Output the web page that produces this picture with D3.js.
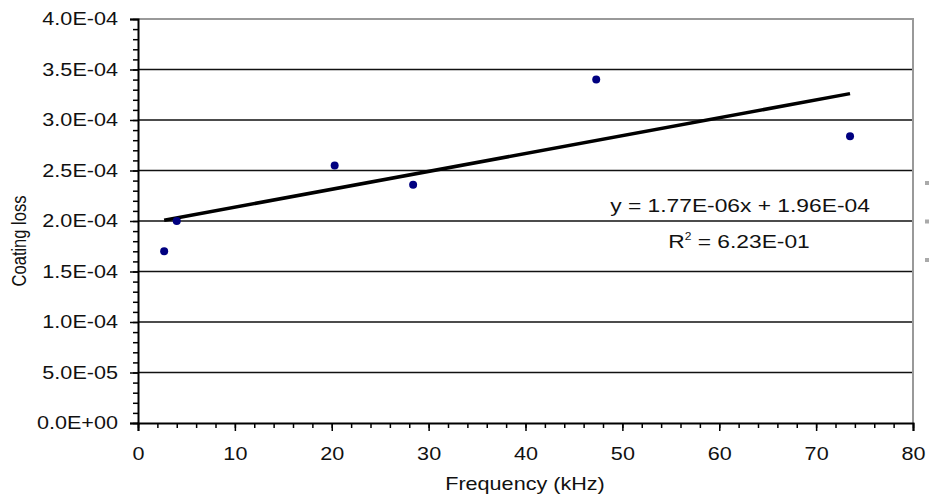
<!DOCTYPE html>
<html>
<head>
<meta charset="utf-8">
<script src="https://cdn.jsdelivr.net/npm/d3@7"></script>
<style>
  body { margin: 0; background: #fff; }
  svg { display: block; font-family: "Liberation Sans", Arial, sans-serif; }
</style>
</head>
<body>
<div id="chart"></div>
<script>
// data
const freq = [2.7, 4.0, 20.3, 28.4, 47.3, 73.5];
const loss = [1.70e-4, 2.00e-4, 2.55e-4, 2.36e-4, 3.40e-4, 2.84e-4];
const slope = 1.77e-6;
const intercept = 1.96e-4;
const eqText = 'y = 1.77E-06x + 1.96E-04';
const r2Value = '6.23E-01';
const xTicks = [0, 10, 20, 30, 40, 50, 60, 70, 80];
const yTicks = [0, 0.5e-4, 1e-4, 1.5e-4, 2e-4, 2.5e-4, 3e-4, 3.5e-4, 4e-4];
const legendRows = [0, 1, 2];

const width = 929, height = 500;
const margin = { top: 19, right: 16, bottom: 77, left: 138 };
const stretch = 1.2;

const fmt = (v) => {
  if (v === 0) return '0.0E+00';
  const [m, e] = v.toExponential(1).split('e');
  const n = +e;
  return `${m}E${n < 0 ? '-' : '+'}${String(Math.abs(n)).padStart(2, '0')}`;
};

const svg = d3.select('#chart').append('svg').attr('width', width).attr('height', height);

const x = d3.scaleLinear().domain([0, 80]).range([margin.left, width - margin.right]);
const y = d3.scaleLinear().domain([0, 4e-4]).range([height - margin.bottom, margin.top]);

// gridlines
svg.append('g')
  .selectAll('line')
  .data(yTicks.filter((d) => d > 0 && d < 4e-4))
  .enter()
  .append('line')
  .attr('x1', x(0)).attr('x2', x(80))
  .attr('y1', (d) => y(d)).attr('y2', (d) => y(d))
  .attr('stroke', '#111').attr('stroke-width', 1.6);

// plot border (top, right)
svg.append('path')
  .attr('d', `M${x(0)},${y(4e-4)}H${x(80)}V${y(0)}`)
  .attr('fill', 'none').attr('stroke', '#999').attr('stroke-width', 2);

// minor ticks
const yMinor = d3.range(0, 4.0001e-4, 1e-5);
svg.append('g')
  .attr('transform', `translate(${x(0)},0)`)
  .call(d3.axisLeft(y).tickValues(yMinor).tickSize(5).tickFormat(''))
  .call((g) => g.select('.domain').remove())
  .selectAll('line').attr('stroke', '#000').attr('stroke-width', 1.5);

const xMinor = d3.range(0, 81, 2);
svg.append('g')
  .attr('transform', `translate(0,${y(0)})`)
  .call(d3.axisBottom(x).tickValues(xMinor).tickSize(5).tickFormat(''))
  .call((g) => g.select('.domain').remove())
  .selectAll('line').attr('stroke', '#000').attr('stroke-width', 1.5);

// major axes
const yAxis = svg.append('g')
  .attr('transform', `translate(${x(0)},0)`)
  .call(d3.axisLeft(y).tickValues(yTicks).tickSize(8).tickPadding(12).tickFormat(fmt));
yAxis.select('.domain').attr('stroke', '#000').attr('stroke-width', 2);
yAxis.selectAll('line').attr('stroke', '#000').attr('stroke-width', 1.5);
yAxis.selectAll('text')
  .attr('x', -20 / stretch)
  .attr('transform', `scale(${stretch},1)`)
  .attr('font-size', 18).attr('fill', '#111')
  .attr('font-family', '"Liberation Sans", Arial, sans-serif');

const xAxis = svg.append('g')
  .attr('transform', `translate(0,${y(0)})`)
  .call(d3.axisBottom(x).tickValues(xTicks).tickSize(8).tickPadding(16));
xAxis.select('.domain').attr('stroke', '#000').attr('stroke-width', 2);
xAxis.selectAll('line').attr('stroke', '#000').attr('stroke-width', 1.5);
xAxis.selectAll('text')
  .attr('transform', `scale(${stretch},1)`)
  .attr('font-size', 18).attr('fill', '#111')
  .attr('font-family', '"Liberation Sans", Arial, sans-serif');

// axis titles
svg.append('text')
  .attr('transform', `translate(${525},490) scale(${stretch},1)`)
  .attr('text-anchor', 'middle').attr('font-size', 18).attr('fill', '#111')
  .text('Frequency (kHz)');

svg.append('text')
  .attr('transform', `translate(26,241) rotate(-90) scale(1,${stretch})`)
  .attr('text-anchor', 'middle').attr('font-size', 16.5).attr('fill', '#111')
  .text('Coating loss');

// trend line
const xExt = d3.extent(freq);
const line = d3.line().x((d) => x(d)).y((d) => y(slope * d + intercept));
svg.append('path')
  .datum(xExt)
  .attr('d', line)
  .attr('fill', 'none').attr('stroke', '#000').attr('stroke-width', 3.5);

// points
const pts = freq.map((f, i) => ({ f, v: loss[i] }));
svg.append('g')
  .selectAll('circle')
  .data(pts)
  .enter()
  .append('circle')
  .attr('cx', (d) => x(d.f))
  .attr('cy', (d) => y(d.v))
  .attr('r', 4)
  .attr('fill', '#000080');

// equation labels
svg.append('text')
  .attr('transform', `translate(740,212) scale(${stretch},1)`)
  .attr('text-anchor', 'middle').attr('font-size', 19).attr('fill', '#111')
  .text(eqText);

const r2 = svg.append('text')
  .attr('transform', `translate(739,248) scale(${stretch},1)`)
  .attr('text-anchor', 'middle').attr('font-size', 19).attr('fill', '#111');
r2.append('tspan').text('R');
r2.append('tspan').attr('font-size', 10).attr('dy', -8).text('2');
r2.append('tspan').attr('dy', 8).text(` = ${r2Value}`);

// clipped legend keys at the right edge
svg.append('g')
  .selectAll('rect')
  .data(legendRows)
  .enter()
  .append('rect')
  .attr('x', 925)
  .attr('y', (d) => 181 + d * 38.5)
  .attr('width', 4).attr('height', 4)
  .attr('fill', '#aaa');
</script>
</body>
</html>
